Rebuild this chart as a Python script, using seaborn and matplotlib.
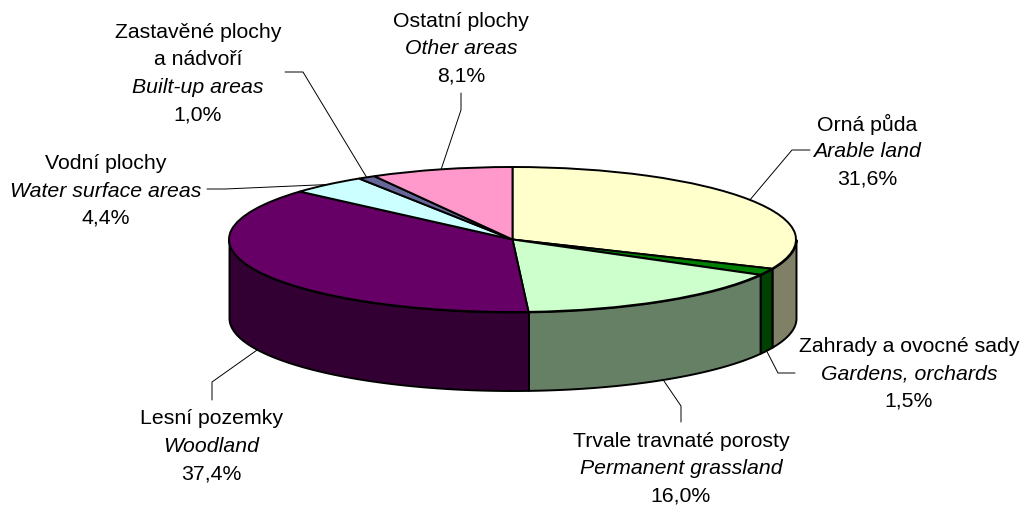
import numpy as np
import matplotlib.pyplot as plt
import seaborn as sns

# land use shares, clockwise from 12 o'clock
names_cz = ['Orná půda', 'Zahrady a ovocné sady', 'Trvale travnaté porosty', 'Lesní pozemky',
            'Vodní plochy', 'Zastavěné plochy\na nádvoří', 'Ostatní plochy']
names_en = ['Arable land', 'Gardens, orchards', 'Permanent grassland', 'Woodland',
            'Water surface areas', 'Built-up areas', 'Other areas']
shares = [31.6, 1.5, 16.0, 37.4, 4.4, 1.0, 8.1]
top_colors = ['#FFFFCC', '#008000', '#CCFFCC', '#660066', '#CCFFFF', '#666699', '#FF99CC']
side_colors = ['#808066', '#004000', '#668066', '#330033', '#668080', '#33334D', '#804D66']

W, H = 1023, 506
CX, CY, RX, RY, DEPTH = 512.5, 240.5, 283.5, 72.5, 78.5

# label layout in pixels: text centre x, first line y, then leader elbow and end
label_x = [867, 909, 681, 211.5, 106, 198, 461]
label_y = [124, 346, 441.5, 419, 163.5, 32, 21]
elbow = [(792, 151), (778, 374), (681, 407), (212, 383), (225, 190), (303, 73), (461, 111)]
leader_end = [(810, 151), (795, 374), (681, 423), (212, 401), (207, 190), (285, 73), (461, 94)]

sns.set_theme(style="white")
plt.rcParams['font.family'] = ['Liberation Sans', 'DejaVu Sans']

fig = plt.figure(figsize=(W / 100, H / 100), dpi=100)
ax = fig.add_axes([0, 0, 1, 1])

edges = np.cumsum([0] + shares) / sum(shares) * 360
depth = DEPTH / RY

# side wall, only the front half of the rim (90..270 deg clockwise from top) shows
for start, end, col in zip(edges[:-1], edges[1:], side_colors):
    a, b = max(start, 90), min(end, 270)
    if a >= b:
        continue
    t = np.radians(np.linspace(a, b, 80))
    x, y = np.sin(t), np.cos(t)
    ax.fill_between(x, y, y - depth, facecolor=col, edgecolor='black', linewidth=1.4, zorder=1)

ax.pie(shares, colors=top_colors, startangle=90, counterclock=False, radius=1,
       center=(0, 0), wedgeprops=dict(edgecolor='black', linewidth=1.4, zorder=2))
ax.set_aspect('auto')
ax.set_xlim(-CX / RX, (W - CX) / RX)
ax.set_ylim((CY - H) / RY, CY / RY)
ax.axis('off')

# overlay in pixel coordinates for labels and leaders
ov = fig.add_axes([0, 0, 1, 1])
ov.set_xlim(0, W)
ov.set_ylim(H, 0)
ov.axis('off')
ov.patch.set_alpha(0)

mids = (edges[:-1] + edges[1:]) / 2
for i, mid in enumerate(mids):
    t = np.radians(mid)
    ax_x = CX + RX * np.sin(t)
    ax_y = CY - RY * np.cos(t)
    if 90 < mid < 270:
        ax_y += DEPTH
    ov.plot([ax_x, elbow[i][0], leader_end[i][0]], [ax_y, elbow[i][1], leader_end[i][1]],
            color='black', linewidth=0.7, zorder=3)

    lines = [(s, 'normal') for s in names_cz[i].split('\n')]
    lines.append((names_en[i], 'italic'))
    lines.append((f'{shares[i]:.1f}%'.replace('.', ','), 'normal'))
    for j, (txt, st) in enumerate(lines):
        ov.text(label_x[i], label_y[i] + j * 27.5, txt, style=st, fontsize=15.3,
                ha='center', va='center', color='black')

fig.savefig('out.png', dpi=100)
